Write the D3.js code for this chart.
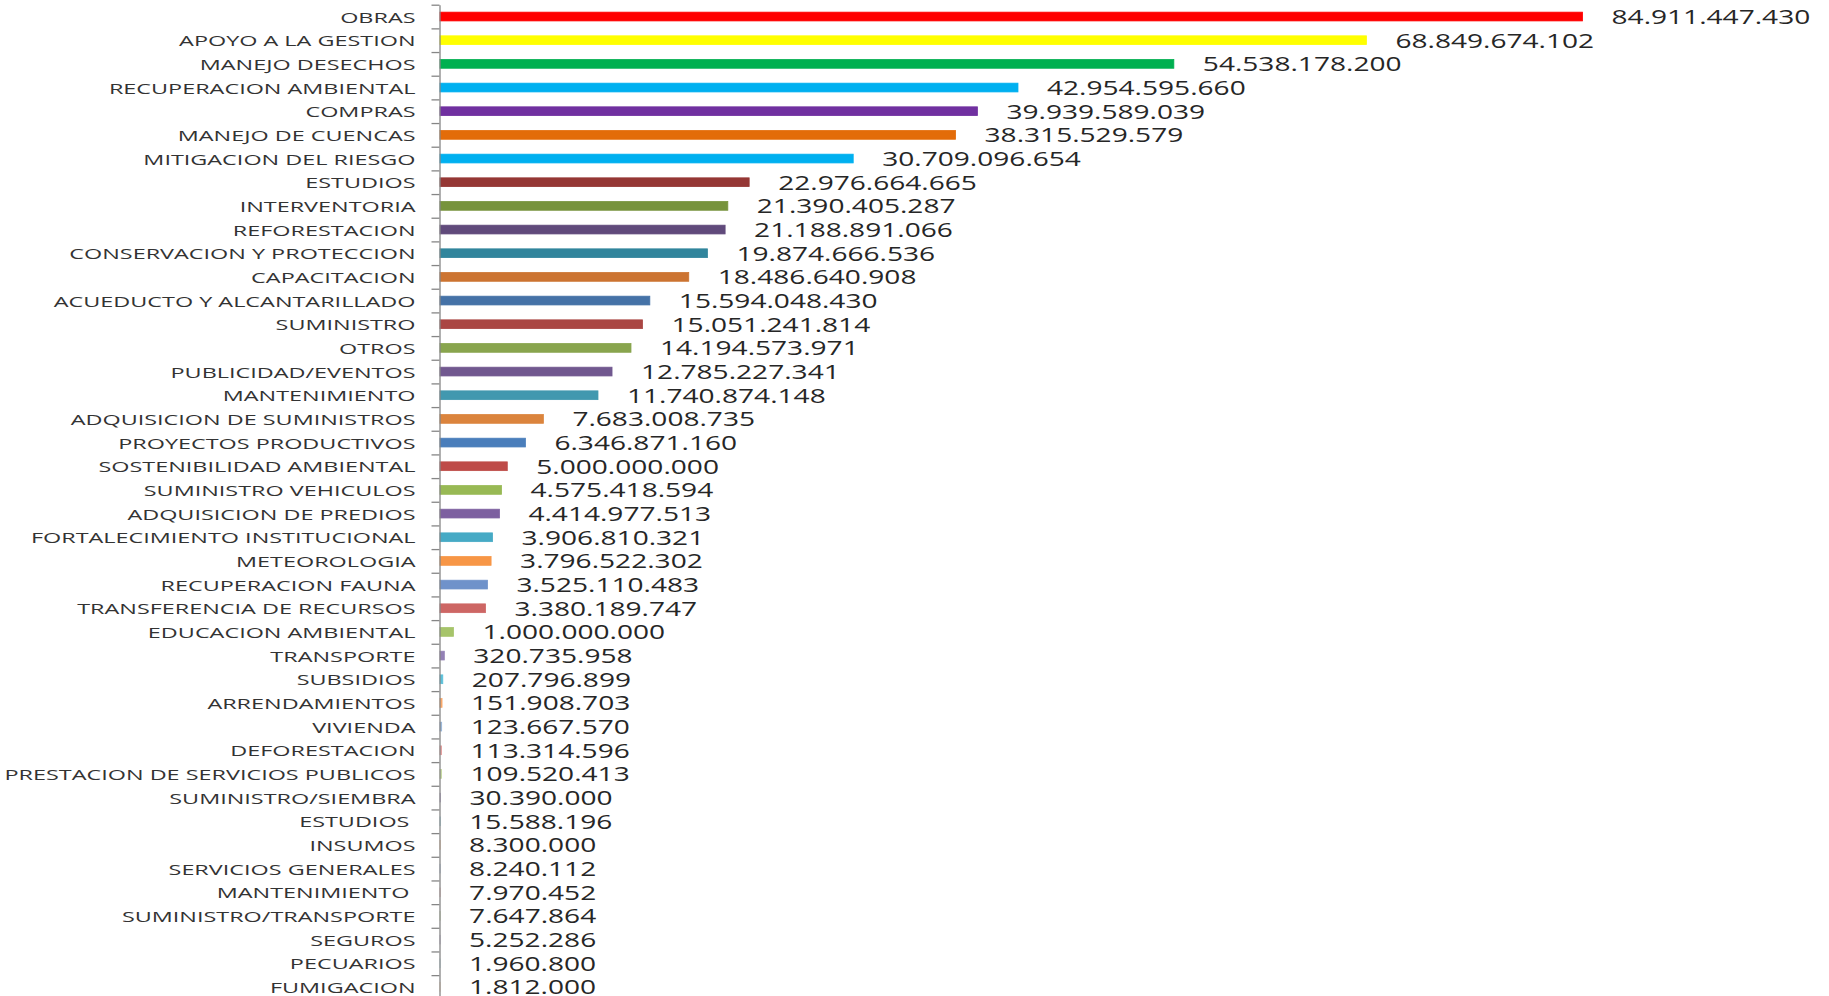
<!DOCTYPE html>
<html>
<head>
<meta charset="utf-8">
<script src="https://cdn.jsdelivr.net/npm/d3@7"></script>
<style>
  html, body { margin: 0; padding: 0; background: #ffffff; }
  svg { display: block; }
  text { white-space: pre; }
</style>
</head>
<body>
<div id="chart"></div>
<script>
const categories = [
  "OBRAS", "APOYO A LA GESTION", "MANEJO DESECHOS", "RECUPERACION AMBIENTAL", "COMPRAS",
  "MANEJO DE CUENCAS", "MITIGACION DEL RIESGO", "ESTUDIOS", "INTERVENTORIA", "REFORESTACION",
  "CONSERVACION Y PROTECCION", "CAPACITACION", "ACUEDUCTO Y ALCANTARILLADO", "SUMINISTRO", "OTROS",
  "PUBLICIDAD/EVENTOS", "MANTENIMIENTO", "ADQUISICION DE SUMINISTROS", "PROYECTOS PRODUCTIVOS", "SOSTENIBILIDAD AMBIENTAL",
  "SUMINISTRO VEHICULOS", "ADQUISICION DE PREDIOS", "FORTALECIMIENTO INSTITUCIONAL", "METEOROLOGIA", "RECUPERACION FAUNA",
  "TRANSFERENCIA DE RECURSOS", "EDUCACION AMBIENTAL", "TRANSPORTE", "SUBSIDIOS", "ARRENDAMIENTOS",
  "VIVIENDA", "DEFORESTACION", "PRESTACION DE SERVICIOS PUBLICOS", "SUMINISTRO/SIEMBRA", "ESTUDIOS ",
  "INSUMOS", "SERVICIOS GENERALES", "MANTENIMIENTO ", "SUMINISTRO/TRANSPORTE", "SEGUROS",
  "PECUARIOS", "FUMIGACION"
];
const values = [
  84911447430, 68849674102, 54538178200, 42954595660, 39939589039,
  38315529579, 30709096654, 22976664665, 21390405287, 21188891066,
  19874666536, 18486640908, 15594048430, 15051241814, 14194573971,
  12785227341, 11740874148, 7683008735, 6346871160, 5000000000,
  4575418594, 4414977513, 3906810321, 3796522302, 3525110483,
  3380189747, 1000000000, 320735958, 207796899, 151908703,
  123667570, 113314596, 109520413, 30390000, 15588196,
  8300000, 8240112, 7970452, 7647864, 5252286,
  1960800, 1812000
];
const colors = [
  "#FF0000", "#FFFF00", "#00B050", "#00B0F0", "#7030A0",
  "#E36C09", "#00B0F0", "#953735", "#77933C", "#604A7B",
  "#31859C", "#CC7432", "#4572A7", "#AA4643", "#89A54E",
  "#71588F", "#4198AF", "#DB843D", "#4A7EBB", "#BE4B48",
  "#98B954", "#7D60A0", "#46AAC5", "#F79646", "#6F92CA",
  "#CD6664", "#A6C46A", "#9380B5", "#5BC0DA", "#F9A86A",
  "#95B3D7", "#E39A98", "#C3D69B", "#B3A2C7", "#93CDDD",
  "#FAC090", "#A8C0E0", "#E6B0AF", "#C8DCA8", "#BDB0D3",
  "#A9D7E6", "#FBCBA5"
];
const axisMax = 90000000000;

const W = 1829, H = 996;
const n = categories.length;
const plotTop = 4.7, plotBottom = 998.8;
const axisX = 439.5;
const catFont = 15.2, valFont = 20.5;
const catStretch = 1.54, valStretch = 1.37;

const svg = d3.select("#chart").append("svg")
  .attr("width", W).attr("height", H)
  .style("font-family", "'Open Sans', 'Liberation Sans', Arial, sans-serif");

const x = d3.scaleLinear().domain([0, axisMax]).range([axisX + 0.5, 1651]);
const y = d3.scaleBand().domain(d3.range(n)).range([plotTop, plotBottom])
  .paddingInner(0.63).paddingOuter(0.315);
const edges = d3.scaleLinear().domain([0, n]).range([plotTop, plotBottom]);

const fmt = d3.formatLocale({ decimal: ",", thousands: ".", grouping: [3], currency: ["$", ""] }).format(",d");

// bars
svg.append("g").selectAll("rect").data(values).join("rect")
  .attr("x", x(0))
  .attr("y", (d, i) => y(i))
  .attr("width", d => x(d) - x(0))
  .attr("height", y.bandwidth())
  .attr("fill", (d, i) => colors[i])
  .attr("stroke", (d, i) => colors[i])
  .attr("stroke-width", 0.8);

// axis with tick marks at category boundaries
const axisG = svg.append("g").attr("transform", `translate(${axisX},0)`)
  .call(d3.axisLeft(edges).tickValues(d3.range(n + 1)).tickFormat("").tickSize(8).tickSizeOuter(0));
axisG.selectAll("path, line").attr("stroke", "#868686").attr("stroke-width", 1.3);

// category labels
svg.append("g").selectAll("text").data(categories).join("text")
  .attr("transform", (d, i) => `translate(${axisX - 24},${y(i) + y.bandwidth() / 2 + catFont * 0.36 + 0.5}) scale(${catStretch},1)`)
  .attr("text-anchor", "end")
  .attr("font-size", catFont)
  .attr("fill", "#333333")
  .text(d => d);

// value labels
svg.append("g").selectAll("text").data(values).join("text")
  .attr("transform", (d, i) => `translate(${x(d) + 29},${y(i) + y.bandwidth() / 2 + valFont * 0.36}) scale(${valStretch},1)`)
  .attr("text-anchor", "start")
  .attr("font-size", valFont)
  .attr("fill", "#262626")
  .text(d => fmt(d));
</script>
</body>
</html>
